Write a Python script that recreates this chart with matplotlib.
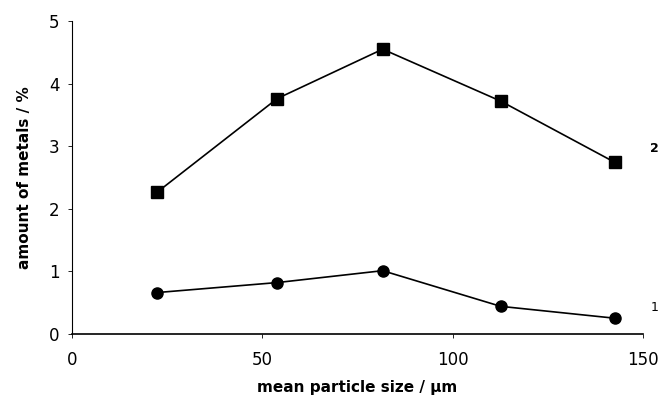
import matplotlib
matplotlib.use("Agg")
import matplotlib.pyplot as plt

size = [22.3, 53.9, 81.6, 112.6, 142.6]
series2 = [2.26, 3.76, 4.55, 3.72, 2.74]
series1 = [0.66, 0.82, 1.01, 0.44, 0.25]
xticks = [0, 50, 100, 150]
yticks = [0, 1, 2, 3, 4, 5]

plt.rcParams['font.family'] = ['DejaVu Sans']
fig = plt.figure(figsize=(6.59, 3.97), dpi=100)
ax = fig.add_axes([0.109, 0.159, 0.867, 0.788])

ax.plot(size, series2, color='black', lw=1.2, marker='s', markersize=8)
ax.plot(size, series1, color='black', lw=1.2, marker='o', markersize=8)

ax.set_xlim(0, 150)
ax.set_ylim(0, 5)
ax.set_xticks(xticks)
ax.set_yticks(yticks)
ax.spines['top'].set_visible(False)
ax.spines['right'].set_visible(False)
ax.spines['left'].set_linewidth(0.8)
ax.spines['bottom'].set_linewidth(1.2)
ax.tick_params(axis='both', labelsize=12, length=3, width=0.6)
ax.tick_params(axis='x', pad=9)
ax.tick_params(axis='y', pad=6)

ax.set_xlabel('mean particle size / µm', fontsize=11, fontweight='bold', labelpad=8)
ax.set_ylabel('amount of metals / %', fontsize=11, fontweight='bold', labelpad=12)

ax.text(153, 2.97, '2', fontsize=9, fontweight='bold', ha='center', va='center', clip_on=False)
ax.text(153, 0.42, '1', fontsize=9, ha='center', va='center', clip_on=False)

fig.savefig('out.png', dpi=100)
